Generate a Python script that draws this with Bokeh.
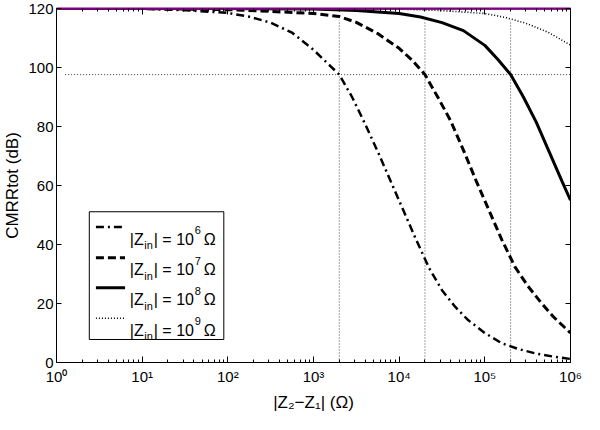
from bokeh.plotting import figure
from bokeh.models import Range1d, FixedTicker, LogAxis, LinearAxis, Label, CustomJSTickFormatter
from bokeh.embed import file_html
from bokeh.resources import INLINE

# ---------------- data ----------------
# exponents of |Z2 - Z1| (ohm) and CMRRtot (dB)
log_dz_1e6 = [0, 1.0, 1.5, 2.0, 2.25, 2.5, 2.75, 3.0, 3.15, 3.301, 3.45, 3.6, 3.75, 3.9, 4.05, 4.2,
              4.35, 4.5, 4.65, 4.8, 5.0, 5.2, 5.4, 5.6, 5.8, 6.0]
cmrr_1e6 = [120.0, 119.9, 119.4, 118.5, 117.2, 115.2, 111.8, 106.0, 101.8, 97.6, 90.0, 81.0, 71.5, 61.5, 51.5, 41.5,
            32.0, 24.5, 19.0, 14.5, 10.0, 6.5, 4.5, 3.0, 2.0, 1.2]

log_dz_1e7 = [0, 1.0, 2.0, 2.5, 3.0, 3.3, 3.5, 3.75, 4.0, 4.15, 4.301, 4.45, 4.6, 4.75, 4.9, 5.05,
              5.2, 5.35, 5.5, 5.65, 5.8, 6.0]
cmrr_1e7 = [120.0, 120.0, 119.6, 119.0, 118.3, 117.3, 115.3, 111.5, 106.5, 102.5, 97.6, 90.0, 82.0, 72.0, 61.5, 51.5,
            41.5, 32.5, 26.0, 20.5, 15.5, 10.0]

log_dz_1e8 = [0, 2.0, 3.0, 3.5, 4.0, 4.25, 4.5, 4.75, 5.0, 5.15, 5.301, 5.45, 5.6, 5.75, 5.9, 6.0]
cmrr_1e8 = [120.0, 120.0, 119.8, 119.3, 118.3, 117.1, 115.2, 112.5, 107.5, 102.8, 97.6, 90.0, 81.5, 71.5, 61.5, 55.0]

log_dz_1e9 = [0, 3.0, 4.0, 4.5, 5.0, 5.25, 5.5, 5.75, 6.0]
cmrr_1e9 = [120.0, 120.0, 119.8, 119.3, 118.3, 116.9, 114.8, 111.8, 107.6]

cmrr_amp = 120.0                 # amplifier CMRR alone (purple line)
cmrr_threshold = 97.6            # horizontal dotted reference
crossing_dz = [2e3, 2e4, 2e5]    # vertical dotted references

x_major = [1, 10, 100, 1000, 10000, 100000, 1000000]
x_tick_labels = ["10\u2070", "10\u00b9", "10\u00b2", "10\u00b3", "10\u2074", "10\u2075", "10\u2076"]
y_ticks = [0, 20, 40, 60, 80, 100, 120]
legend_exponents = ["6", "7", "8", "9"]

FONT = "Liberation Sans"
PURPLE = "#7f007f"

p = figure(width=584, height=414, x_axis_type="log",
           x_range=Range1d(1, 1e6), y_range=Range1d(0, 120),
           output_backend="svg", toolbar_location=None,
           min_border_left=10, min_border_right=14, min_border_top=8, min_border_bottom=10)
p.grid.visible = False
p.outline_line_color = None
p.background_fill_color = "white"
p.border_fill_color = "white"

x_minor = [m * d for d in x_major[:-1] for m in range(2, 10)]
empty = CustomJSTickFormatter(code="return ''")
xfmt = CustomJSTickFormatter(args=dict(tvals=x_major, tlabels=x_tick_labels),
                             code="const i = tvals.indexOf(tick); return i >= 0 ? tlabels[i] : '';")

xa = p.xaxis[0]
xa.ticker = FixedTicker(ticks=x_major, minor_ticks=x_minor)
xa.formatter = xfmt
xa.major_tick_in = 6
xa.major_tick_out = 0
xa.minor_tick_in = 3
xa.minor_tick_out = 0
xa.major_label_standoff = 5
xa.major_label_text_font = FONT
xa.major_label_text_font_size = "15px"
xa.major_label_text_color = "black"
xa.axis_line_color = "black"
xa.axis_label = "|Z\u2082\u2212Z\u2081| (\u03a9)"
xa.axis_label_text_font = FONT
xa.axis_label_text_font_size = "17px"
xa.axis_label_text_font_style = "normal"
xa.axis_label_text_color = "black"
xa.axis_label_standoff = 5

ya = p.yaxis[0]
ya.ticker = FixedTicker(ticks=y_ticks)
ya.major_tick_in = 5
ya.major_tick_out = 0
ya.minor_tick_in = 0
ya.minor_tick_out = 0
ya.major_label_standoff = 3
ya.major_label_text_font = FONT
ya.major_label_text_font_size = "15px"
ya.major_label_text_color = "black"
ya.axis_label = "CMRRtot (dB)"
ya.axis_label_text_font = FONT
ya.axis_label_text_font_size = "17px"
ya.axis_label_text_font_style = "normal"
ya.axis_label_text_color = "black"
ya.axis_label_standoff = 3

top = LogAxis(ticker=FixedTicker(ticks=x_major, minor_ticks=x_minor), formatter=empty,
              major_tick_in=6, major_tick_out=0, minor_tick_in=3, minor_tick_out=0,
              axis_line_color=PURPLE, axis_line_width=2,
              major_label_standoff=0, major_label_text_font_size="0px")
p.add_layout(top, "above")
right = LinearAxis(ticker=FixedTicker(ticks=y_ticks), formatter=empty,
                   major_tick_in=5, major_tick_out=0, minor_tick_in=0, minor_tick_out=0,
                   major_label_standoff=0, major_label_text_font_size="0px")
p.add_layout(right, "right")

# reference dotted lines
p.line([1.26, 1.3e6], [cmrr_threshold, cmrr_threshold], line_color="#444444", line_width=1, line_dash="1 2")
p.segment(x0=crossing_dz, y0=[0] * 3, x1=crossing_dz, y1=[116] * 3,
          line_color="#444444", line_width=1, line_dash="1 2")

styles = [
    dict(line_width=2.5, line_dash="8 4 2 4"),
    dict(line_width=3, line_dash="8 4"),
    dict(line_width=3, line_dash="solid"),
    dict(line_width=1.6, line_dash="1 2"),
]
series = [(log_dz_1e6, cmrr_1e6), (log_dz_1e7, cmrr_1e7), (log_dz_1e8, cmrr_1e8), (log_dz_1e9, cmrr_1e9)]
for (lx, ys), st in zip(series, styles):
    p.line([10 ** e for e in lx], ys, line_color="black", **st)

p.line([1, 1e6], [cmrr_amp, cmrr_amp], line_color=PURPLE, line_width=2.5)

# legend
p.quad(left=[10 ** 0.383], right=[10 ** 1.953], bottom=[7.8], top=[51.1],
       fill_color="white", line_color="black", line_width=1)
legend_y = [45.9, 35.5, 25.3, 15.0]
lx0, lx1, tx0 = 10 ** 0.46, 10 ** 0.80, 10 ** 0.855
for ly, st, e in zip(legend_y, styles, legend_exponents):
    p.line([lx0, lx1], [ly, ly], line_color="black", **st)
    for txt, dx, dy, fs in [("|Z", 0, -12, "16px"), ("in", 14.5, -18, "11px"), ("| = 10", 24, -12, "16px"),
                            (e, 65, -3, "11px"), ("\u03a9", 74, -12, "16px")]:
        p.add_layout(Label(x=tx0, y=ly, x_offset=dx, y_offset=dy, text=txt, text_align="left",
                           text_baseline="alphabetic", text_font=FONT, text_font_size=fs, text_color="black"))

open("out.html", "w").write(file_html(p, INLINE))
